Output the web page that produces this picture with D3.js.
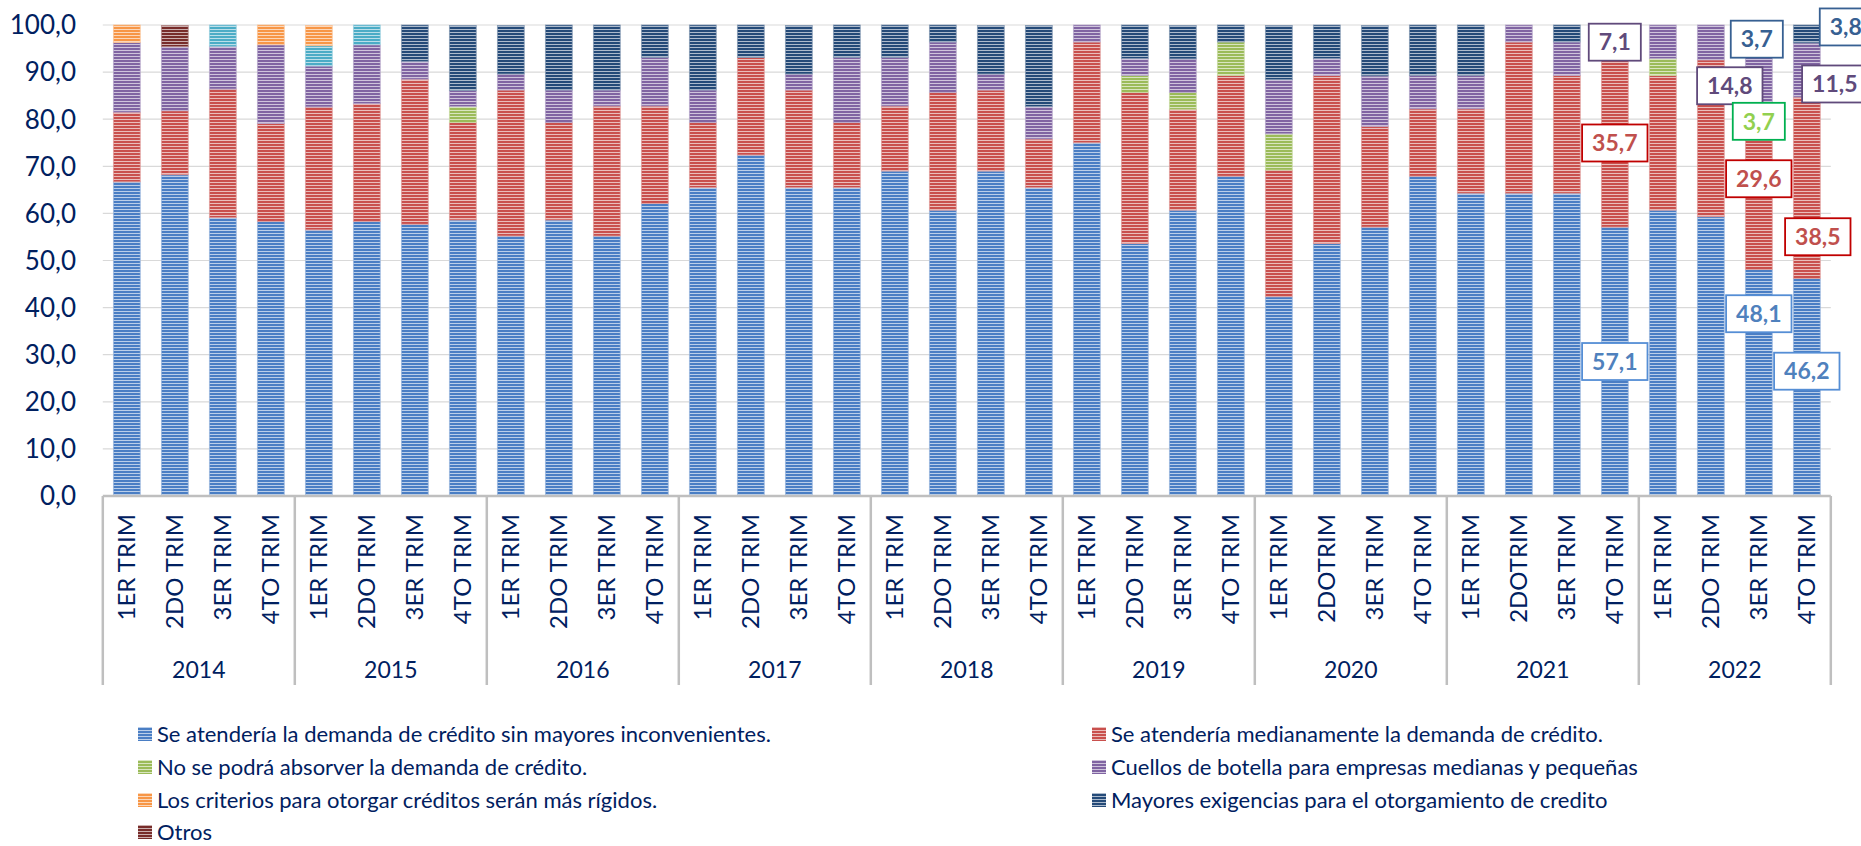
<!DOCTYPE html>
<html>
<head>
<meta charset="utf-8">
<script src="https://cdn.jsdelivr.net/npm/d3@7"></script>
<style>
  body { margin: 0; background: #fff; }
  svg { display: block; font-family: Lato, "Noto Sans", sans-serif; }
</style>
</head>
<body>
<div id="chart"></div>
<script>
// categorías
const years = ["2014", "2015", "2016", "2017", "2018", "2019", "2020", "2021", "2022"];
const quarters = [
    "1ER TRIM", "2DO TRIM", "3ER TRIM", "4TO TRIM",
    "1ER TRIM", "2DO TRIM", "3ER TRIM", "4TO TRIM",
    "1ER TRIM", "2DO TRIM", "3ER TRIM", "4TO TRIM",
    "1ER TRIM", "2DO TRIM", "3ER TRIM", "4TO TRIM",
    "1ER TRIM", "2DO TRIM", "3ER TRIM", "4TO TRIM",
    "1ER TRIM", "2DO TRIM", "3ER TRIM", "4TO TRIM",
    "1ER TRIM", "2DOTRIM", "3ER TRIM", "4TO TRIM",
    "1ER TRIM", "2DOTRIM", "3ER TRIM", "4TO TRIM",
    "1ER TRIM", "2DO TRIM", "3ER TRIM", "4TO TRIM"
];

// series (%), de abajo hacia arriba
const sinInconvenientes = [66.7, 68.2, 59.1, 58.3, 56.5, 58.3, 57.7, 58.6, 55.2, 58.6, 55.2, 62.1,
    65.5, 72.4, 65.5, 65.5, 69.0, 60.7, 69.0, 65.5, 75.0, 53.6, 60.7, 67.9,
    42.3, 53.6, 57.1, 67.9, 64.3, 64.3, 64.3, 57.1, 60.7, 59.3, 48.1, 46.2];
const medianamente = [14.8, 13.6, 27.3, 20.8, 26.1, 25.0, 30.8, 20.7, 31.0, 20.7, 27.6, 20.7,
    13.8, 20.7, 20.7, 13.8, 13.8, 25.0, 17.2, 10.3, 21.4, 32.1, 21.4, 21.4,
    26.9, 35.7, 21.4, 14.3, 17.9, 32.1, 25.0, 35.7, 28.6, 33.3, 29.6, 38.5];
const noAbsorber = [0, 0, 0, 0, 0, 0, 0, 3.4, 0, 0, 0, 0,
    0, 0, 0, 0, 0, 0, 0, 0, 0, 3.6, 3.6, 7.1,
    7.7, 0, 0, 0, 0, 0, 0, 0, 3.6, 0, 3.7, 0];
const cuellosBotella = [14.8, 13.6, 9.1, 16.7, 8.7, 12.5, 3.8, 3.4, 3.4, 6.9, 3.4, 10.3,
    6.9, 0, 3.4, 13.8, 10.3, 10.7, 3.4, 6.9, 3.6, 3.6, 7.1, 0,
    11.5, 3.6, 10.7, 7.1, 7.1, 3.6, 7.1, 7.1, 7.1, 7.4, 14.8, 11.5];
const sinLeyenda = [0, 0, 4.5, 0, 4.3, 4.2, 0, 0, 0, 0, 0, 0,
    0, 0, 0, 0, 0, 0, 0, 0, 0, 0, 0, 0,
    0, 0, 0, 0, 0, 0, 0, 0, 0, 0, 0, 0];
const criteriosRigidos = [3.7, 0, 0, 4.2, 4.3, 0, 0, 0, 0, 0, 0, 0,
    0, 0, 0, 0, 0, 0, 0, 0, 0, 0, 0, 0,
    0, 0, 0, 0, 0, 0, 0, 0, 0, 0, 0, 0];
const mayoresExigencias = [0, 0, 0, 0, 0, 0, 7.7, 13.8, 10.3, 13.8, 13.8, 6.9,
    13.8, 6.9, 10.3, 6.9, 6.9, 3.6, 10.3, 17.2, 0, 7.1, 7.1, 3.6,
    11.5, 7.1, 10.7, 10.7, 10.7, 0, 3.6, 0, 0, 0, 3.7, 3.8];
const otros = [0, 4.5, 0, 0, 0, 0, 0, 0, 0, 0, 0, 0,
    0, 0, 0, 0, 0, 0, 0, 0, 0, 0, 0, 0,
    0, 0, 0, 0, 0, 0, 0, 0, 0, 0, 0, 0];

const yTicks = [0, 10, 20, 30, 40, 50, 60, 70, 80, 90, 100];

const series = [
    { key: "sin", name: "Se atendería la demanda de crédito sin mayores inconvenientes.", values: sinInconvenientes, color: "#4a7ec4", legend: true },
    { key: "med", name: "Se atendería medianamente la demanda de crédito.", values: medianamente, color: "#c9504d", legend: true },
    { key: "noabs", name: "No se podrá absorver la demanda de crédito.", values: noAbsorber, color: "#9bbb59", legend: true },
    { key: "cuellos", name: "Cuellos de botella para empresas medianas y pequeñas", values: cuellosBotella, color: "#8064a2", legend: true },
    { key: "cyan", name: "", values: sinLeyenda, color: "#4bacc6", legend: false },
    { key: "criterios", name: "Los criterios para otorgar créditos serán más rígidos.", values: criteriosRigidos, color: "#f79646", legend: true },
    { key: "mayores", name: "Mayores exigencias para el otorgamiento de credito", values: mayoresExigencias, color: "#244a78", legend: true },
    { key: "otros", name: "Otros", values: otros, color: "#772c2a", legend: true }
];

// etiquetas con recuadro (barra, serie, desplazamiento en px)
const labelStyle = {
    sin: { stroke: "#558ed5", fill: "#4f81bd" },
    med: { stroke: "#c00000", fill: "#c0504d" },
    noabs: { stroke: "#00b050", fill: "#92d050" },
    cuellos: { stroke: "#604a7b", fill: "#604a7b" },
    mayores: { stroke: "#376092", fill: "#376092" }
};
const annotations = [
    { bar: 31, key: "cuellos", dx: 0, dy: 0 },
    { bar: 31, key: "med", dx: 0, dy: 0 },
    { bar: 31, key: "sin", dx: 0, dy: 0 },
    { bar: 34, key: "mayores", dx: -2, dy: 5 },
    { bar: 34, key: "cuellos", dx: -29, dy: 8 },
    { bar: 34, key: "noabs", dx: 0, dy: 0 },
    { bar: 34, key: "med", dx: 0, dy: -21 },
    { bar: 34, key: "sin", dx: 0, dy: -69 },
    { bar: 35, key: "mayores", dx: 39, dy: -7 },
    { bar: 35, key: "cuellos", dx: 28, dy: 14 },
    { bar: 35, key: "med", dx: 11, dy: 49 },
    { bar: 35, key: "sin", dx: 0, dy: -16 }
];

const width = 1861, height = 846;
const plot = { left: 102.8, right: 1830.8, top: 25, bottom: 496 };
const textColor = "#002060";
const fmt = v => d3.format(".1f")(v).replace(".", ",");

const table = quarters.map((q, i) => {
    const row = { id: i, quarter: q, year: years[Math.floor(i / 4)] };
    series.forEach(s => { row[s.key] = s.values[i]; });
    return row;
});

const svg = d3.select("#chart").append("svg")
    .attr("width", width)
    .attr("height", height);

const defs = svg.append("defs");
series.forEach(s => {
    const light = d3.interpolateRgb(s.color, "#ffffff")(0.62);
    const p = defs.append("pattern")
        .attr("id", `pat-${s.key}`)
        .attr("patternUnits", "userSpaceOnUse")
        .attr("width", 6).attr("height", 3);
    p.append("rect").attr("width", 6).attr("height", 3).attr("fill", s.color);
    p.append("rect").attr("y", 2).attr("width", 6).attr("height", 1).attr("fill", light);
});

const x = d3.scaleBand()
    .domain(table.map(d => d.id))
    .range([plot.left, plot.right])
    .paddingInner(0.44)
    .paddingOuter(0.22);

const y = d3.scaleLinear()
    .domain([0, 100])
    .range([plot.bottom, plot.top]);

// líneas de cuadrícula
svg.append("g")
    .selectAll("line")
    .data(yTicks.filter(t => t > 0))
    .enter().append("line")
    .attr("x1", plot.left).attr("x2", plot.right)
    .attr("y1", d => y(d)).attr("y2", d => y(d))
    .attr("stroke", "#d9d9d9")
    .attr("stroke-width", 1.2);

// eje y
svg.append("g")
    .selectAll("text")
    .data(yTicks)
    .enter().append("text")
    .attr("x", 76)
    .attr("y", d => y(d))
    .attr("dy", "0.36em")
    .attr("text-anchor", "end")
    .attr("fill", textColor)
    .attr("font-size", 26)
    .text(d => fmt(d));

// barras apiladas
const stacked = d3.stack().keys(series.map(s => s.key))(table);

svg.append("g")
    .selectAll("g")
    .data(stacked)
    .enter().append("g")
    .attr("fill", d => `url(#pat-${d.key})`)
    .attr("stroke", d => d3.interpolateRgb(series.find(s => s.key === d.key).color, "#ffffff")(0.45))
    .attr("stroke-width", 0.8)
    .selectAll("rect")
    .data(d => d.filter(p => p[1] - p[0] > 0))
    .enter().append("rect")
    .attr("x", d => x(d.data.id))
    .attr("width", x.bandwidth())
    .attr("y", d => y(d[1]))
    .attr("height", d => y(d[0]) - y(d[1]));

// eje x con grupos por año
const axisG = svg.append("g");
axisG.append("line")
    .attr("x1", plot.left).attr("x2", plot.right)
    .attr("y1", plot.bottom).attr("y2", plot.bottom)
    .attr("stroke", "#bfbfbf")
    .attr("stroke-width", 2.5);

const groupEdges = d3.range(years.length + 1).map(k => plot.left + k * 4 * x.step());
axisG.selectAll(".sep")
    .data(groupEdges)
    .enter().append("line")
    .attr("class", "sep")
    .attr("x1", d => d).attr("x2", d => d)
    .attr("y1", plot.bottom).attr("y2", 685)
    .attr("stroke", "#bfbfbf")
    .attr("stroke-width", 2.5);

axisG.selectAll(".q")
    .data(table)
    .enter().append("text")
    .attr("class", "q")
    .attr("transform", d => `translate(${x(d.id) + x.bandwidth() / 2},514) rotate(-90)`)
    .attr("dy", "0.36em")
    .attr("text-anchor", "end")
    .attr("fill", textColor)
    .attr("font-size", 24)
    .text(d => d.quarter);

axisG.selectAll(".yr")
    .data(years)
    .enter().append("text")
    .attr("class", "yr")
    .attr("x", (d, i) => (groupEdges[i] + groupEdges[i + 1]) / 2)
    .attr("y", 678)
    .attr("text-anchor", "middle")
    .attr("fill", textColor)
    .attr("font-size", 23)
    .text(d => d);

// etiquetas de datos
const labelG = svg.append("g");
annotations.forEach(a => {
    const layer = stacked.find(l => l.key === a.key);
    const seg = layer[a.bar];
    const cx = x(a.bar) + x.bandwidth() / 2 + a.dx;
    const cy = (y(seg[0]) + y(seg[1])) / 2 + a.dy;
    const st = labelStyle[a.key];
    const g = labelG.append("g");
    const rect = g.append("rect");
    const t = g.append("text")
        .attr("x", cx)
        .attr("y", cy)
        .attr("dy", "0.36em")
        .attr("text-anchor", "middle")
        .attr("font-size", 23)
        .attr("font-weight", "bold")
        .attr("fill", st.fill)
        .text(fmt(seg.data[a.key]));
    const w = t.node().getComputedTextLength() + 20;
    rect.attr("x", cx - w / 2)
        .attr("y", cy - 18.5)
        .attr("width", w)
        .attr("height", 37)
        .attr("fill", "#fff")
        .attr("stroke", st.stroke)
        .attr("stroke-width", 1.8);
});

// leyenda
const legendItems = series.filter(s => s.legend);
const leftCol = [legendItems[0], legendItems[2], legendItems[4], legendItems[6]];
const rightCol = [legendItems[1], legendItems[3], legendItems[5]];
const legendRows = [734, 767, 800, 832];

[{ items: leftCol, x: 138 }, { items: rightCol, x: 1092 }].forEach(col => {
    const g = svg.append("g");
    const item = g.selectAll("g")
        .data(col.items)
        .enter().append("g")
        .attr("transform", (d, i) => `translate(${col.x},${legendRows[i]})`);
    item.append("rect")
        .attr("x", 0).attr("y", -7)
        .attr("width", 14).attr("height", 14)
        .attr("fill", d => `url(#pat-${d.key})`);
    item.append("text")
        .attr("x", 19)
        .attr("dy", "0.36em")
        .attr("fill", textColor)
        .attr("font-size", 22)
        .text(d => d.name);
});
</script>
</body>
</html>
